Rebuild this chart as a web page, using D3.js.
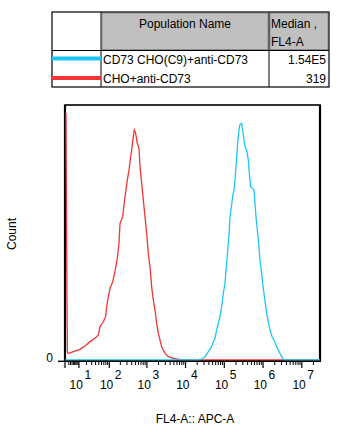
<!DOCTYPE html>
<html><head><meta charset="utf-8">
<script src="https://cdn.jsdelivr.net/npm/d3@7/dist/d3.min.js"></script>
<style>body{margin:0;background:#fff}svg{display:block;font-family:"Liberation Sans",Arial,sans-serif}</style>
</head><body><svg id="c" width="342" height="432"></svg>
<script>
// ---- data ----
const seriesNames = ["CD73 CHO(C9)+anti-CD73", "CHO+anti-CD73"];
const seriesMedians = ["1.54E5", "319"];
const seriesColors = ["#1cc6f2", "#f23434"];
const tableHeaders = ["Population Name", "Median ,", "FL4-A"];
const xLabel = "FL4-A:: APC-A";
const yLabel = "Count";
const decadeExponents = [1, 2, 3, 4, 5, 6, 7];
const yTickLabels = ["0"];
// red: CHO+anti-CD73  [intensity, count(% of max)]
const redIntensity = [0.45, 0.98, 1.2, 1.7, 4.97, 11.1, 17.7, 26.5, 38.3, 48.4, 54.3, 67.8, 79.1, 84.4, 94, 104.6, 124, 143, 166, 184, 196, 231, 250, 283, 307, 340, 376, 399, 442, 469, 508, 562, 622, 660, 730, 807, 891, 985, 1088, 1202, 1329, 1468, 1621, 1791, 1978, 2185, 2413, 2943, 3590, 4835, 8000, 2.95e7];
const redCount = [96.9, 23.5, 3.0, 2.6, 3.3, 4.2, 5.5, 7.2, 8.5, 9.8, 13.1, 15.0, 17.0, 20.9, 24.8, 28.1, 30.7, 34.6, 39.9, 45.8, 53.6, 56.2, 60.8, 66.7, 70.6, 74.5, 79.7, 82.4, 87.6, 90.2, 88.9, 85.0, 83.0, 75.8, 69.3, 62.7, 56.2, 49.7, 41.8, 36.6, 28.7, 23.5, 19.6, 14.4, 10.5, 7.8, 5.2, 2.6, 1.3, 0.6, 0, 0];
// blue: CD73 CHO(C9)+anti-CD73
const blueIntensity = [0, 20000, 26060, 31800, 38750, 47250, 52140, 57540, 63530, 70150, 77450, 85500, 94400, 104200, 115100, 127000, 134900, 140300, 154900, 164400, 177900, 188800, 200400, 208500, 221300, 239400, 254100, 280600, 297800, 322100, 342000, 377600, 416900, 442600, 478600, 528400, 583400, 619400, 657700, 711300, 770900, 833700, 920400, 977200, 1057000, 1146000, 1239000, 1396000, 1510000, 1702000, 1919000, 2158000, 2477000, 2851000, 3334000, 3600000, 2.95e7];
const blueCount = [0, 0, 0.3, 1.3, 3.3, 5.2, 7.2, 8.5, 11.8, 14.4, 17.0, 20.9, 26.1, 30.1, 37.9, 45.8, 51.0, 56.2, 60.8, 64.1, 66.7, 70.6, 75.8, 79.7, 85.0, 90.2, 92.4, 92.8, 90.2, 86.3, 83.7, 82.4, 78.4, 73.2, 68.0, 67.3, 66.7, 61.4, 56.2, 51.0, 45.8, 39.2, 34.0, 30.1, 26.1, 22.2, 18.3, 14.4, 11.8, 9.2, 7.8, 5.9, 3.9, 2.0, 0.3, 0, 0];

// ---- layout ----
const svg = d3.select("#c");
const L = 65, R = 320, T = 105, B = 360;
const x = d3.scaleSymlog().constant(7.75).domain([0, 2.95e7]).range([L, R]);
const y = d3.scaleLinear().domain([0, 100]).range([B, T]);

// frame
svg.append("rect").attr("x", L).attr("y", T).attr("width", R - L).attr("height", B - T + 1)
  .attr("fill", "none").attr("stroke", "#000").attr("stroke-width", 1.6);
svg.append("line").attr("x1", L).attr("x2", L).attr("y1", T).attr("y2", B + 1).attr("stroke", "#000").attr("stroke-width", 2.2);
svg.append("line").attr("x1", R).attr("x2", R).attr("y1", T).attr("y2", B + 1).attr("stroke", "#000").attr("stroke-width", 2.2);

// histograms (red under blue)
const line = d3.line().x(d => x(d[0])).y(d => y(d[1]));
const red = d3.zip(redIntensity, redCount);
const blue = d3.zip(blueIntensity, blueCount);
svg.append("path").datum(red).attr("d", line).attr("fill", "none").attr("stroke", seriesColors[1]).attr("stroke-width", 1.3);
svg.append("path").datum(blue).attr("d", line).attr("fill", "none").attr("stroke", seriesColors[0]).attr("stroke-width", 1.3);

// x axis
const ax = svg.append("g");
ax.append("line").attr("x1", L - 1).attr("x2", R + 1).attr("y1", 361.3).attr("y2", 361.3).attr("stroke", "#000").attr("stroke-width", 1.6);
const minor = [];
for (let e = 0; e <= 7; e++) for (let m = 2; m <= 9; m++) { const v = m * Math.pow(10, e); if (v < 2.95e7) minor.push(v); }
ax.selectAll(".mn").data(minor).join("line")
  .attr("x1", d => x(d)).attr("x2", d => x(d)).attr("y1", 361).attr("y2", 365)
  .attr("stroke", "#000").attr("stroke-width", 1);
const major = [0].concat(decadeExponents.map(e => Math.pow(10, e)));
ax.selectAll(".mj").data(major).join("line")
  .attr("x1", d => x(d)).attr("x2", d => x(d)).attr("y1", 361).attr("y2", 368)
  .attr("stroke", "#000").attr("stroke-width", 1.2);
const lab = ax.selectAll(".lb").data(decadeExponents).join("g");
lab.append("text").attr("x", e => x(Math.pow(10, e)) + 4).attr("y", 388.5)
  .attr("text-anchor", "end").attr("font-size", 12).text("10");
lab.append("text").attr("x", e => x(Math.pow(10, e)) + 5.5).attr("y", 378.5)
  .attr("text-anchor", "start").attr("font-size", 12).text(e => e);

// y axis
svg.append("line").attr("x1", 58).attr("x2", L).attr("y1", 361.3).attr("y2", 361.3).attr("stroke", "#000").attr("stroke-width", 1.4);
svg.append("text").attr("x", 53).attr("y", 362).attr("text-anchor", "end").attr("font-size", 12).text(yTickLabels[0]);

// axis titles
svg.append("text").attr("transform", "translate(16,234) rotate(-90)").attr("text-anchor", "middle").attr("font-size", 12).text(yLabel);
svg.append("text").attr("x", 195).attr("y", 423).attr("text-anchor", "middle").attr("font-size", 12).text(xLabel);

// ---- legend table ----
const tb = svg.append("g");
const tx0 = 52, tx1 = 101, tx2 = 269, tx3 = 329, ty0 = 12, ty1 = 50.5, ty2 = 68, ty3 = 87;
tb.append("rect").attr("x", tx1 + 1).attr("y", ty0 + 1).attr("width", tx2 - tx1 - 2).attr("height", ty1 - ty0 - 2)
  .attr("fill", "#c0c0c0").attr("stroke", "#8c8c8c").attr("stroke-width", 1);
tb.append("rect").attr("x", tx2 + 1).attr("y", ty0 + 1).attr("width", tx3 - tx2 - 2).attr("height", ty1 - ty0 - 2)
  .attr("fill", "#c0c0c0").attr("stroke", "#8c8c8c").attr("stroke-width", 1);
tb.append("rect").attr("x", tx0).attr("y", ty0).attr("width", tx3 - tx0).attr("height", ty3 - ty0)
  .attr("fill", "none").attr("stroke", "#000").attr("stroke-width", 1.2);
[tx1, tx2].forEach(xx => tb.append("line").attr("x1", xx).attr("x2", xx).attr("y1", ty0).attr("y2", ty3).attr("stroke", "#000").attr("stroke-width", 1));
tb.append("line").attr("x1", tx0).attr("x2", tx3).attr("y1", ty1).attr("y2", ty1).attr("stroke", "#000").attr("stroke-width", 1);
tb.append("text").attr("x", (tx1 + tx2) / 2).attr("y", 28).attr("text-anchor", "middle").attr("font-size", 12).text(tableHeaders[0]);
tb.append("text").attr("x", 271).attr("y", 28).attr("font-size", 12).text(tableHeaders[1]);
tb.append("text").attr("x", 271).attr("y", 46).attr("font-size", 12).text(tableHeaders[2]);
const rowsY = [58.5, 78];
seriesNames.forEach((n, i) => {
  tb.append("line").attr("x1", tx0).attr("x2", tx1).attr("y1", rowsY[i]).attr("y2", rowsY[i]).attr("stroke", seriesColors[i]).attr("stroke-width", 4);
  tb.append("text").attr("x", 103).attr("y", rowsY[i] + 5).attr("font-size", 12).text(n);
  tb.append("text").attr("x", 326).attr("y", rowsY[i] + 5).attr("text-anchor", "end").attr("font-size", 12).text(seriesMedians[i]);
});
</script></body></html>
